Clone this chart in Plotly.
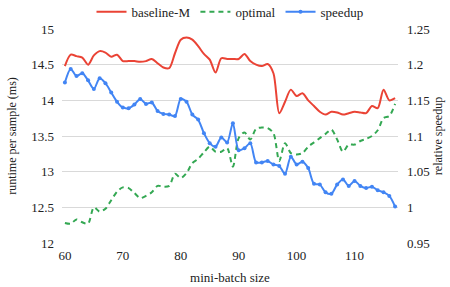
import plotly.graph_objects as go

batch = list(range(60, 118))

baseline_m = [14.48, 14.64, 14.62, 14.60, 14.50, 14.63, 14.69, 14.67, 14.61, 14.64,
              14.55, 14.55, 14.55, 14.54, 14.55, 14.58, 14.52, 14.46, 14.45, 14.66,
              14.85, 14.88, 14.85, 14.76, 14.65, 14.57, 14.39, 14.59, 14.58, 14.58,
              14.58, 14.65, 14.55, 14.50, 14.48, 14.51, 14.38, 13.82, 13.98, 14.15,
              14.06, 14.10, 14.00, 13.92, 13.84, 13.80, 13.84, 13.83, 13.80, 13.82,
              13.84, 13.83, 13.82, 13.92, 13.89, 14.15, 14.00, 14.03]

optimal = [12.28, 12.27, 12.33, 12.29, 12.27, 12.50, 12.44, 12.48, 12.60, 12.72,
           12.78, 12.77, 12.70, 12.63, 12.66, 12.71, 12.80, 12.79, 12.80, 12.97,
           12.91, 12.98, 13.12, 13.18, 13.27, 13.35, 13.28, 13.28, 13.33, 13.07,
           13.47, 13.55, 13.45, 13.60, 13.62, 13.61, 13.54, 13.15, 13.40, 13.26,
           13.24, 13.26, 13.35, 13.41, 13.47, 13.53, 13.59, 13.45, 13.28, 13.38,
           13.38, 13.43, 13.46, 13.50, 13.58, 13.75, 13.78, 13.95]

speedup = [1.175, 1.194, 1.184, 1.188, 1.178, 1.166, 1.181, 1.174, 1.161, 1.148,
           1.140, 1.139, 1.144, 1.152, 1.145, 1.147, 1.135, 1.131, 1.130, 1.128,
           1.152, 1.148, 1.130, 1.123, 1.104, 1.090, 1.085, 1.098, 1.091, 1.118,
           1.080, 1.083, 1.090, 1.063, 1.063, 1.065, 1.060, 1.058, 1.047, 1.071,
           1.060, 1.064, 1.055, 1.033, 1.032, 1.021, 1.019, 1.032, 1.039, 1.030,
           1.037, 1.030, 1.027, 1.029, 1.024, 1.021, 1.016, 1.001]

RED = "#EA4335"
GREEN = "#34A853"
BLUE = "#4285F4"
FONT = "Liberation Serif"

fig = go.Figure()
fig.add_trace(go.Scatter(x=batch, y=baseline_m, name="baseline-M", mode="lines",
                         line=dict(color=RED, width=2, shape="spline", smoothing=0.8)))
fig.add_trace(go.Scatter(x=batch, y=optimal, name="optimal", mode="lines",
                         line=dict(color=GREEN, width=2, dash="5px,4px", shape="spline", smoothing=0.8)))
fig.add_trace(go.Scatter(x=batch, y=speedup, name="speedup", mode="lines+markers",
                         line=dict(color=BLUE, width=2, shape="spline", smoothing=0.8),
                         marker=dict(color=BLUE, size=4), yaxis="y2"))

fig.update_layout(
    width=450, height=287,
    margin=dict(l=62, r=52, t=29, b=44, autoexpand=False),
    paper_bgcolor="white", plot_bgcolor="white",
    font=dict(family=FONT, size=13, color="#222222"),
    showlegend=True,
    legend=dict(orientation="h", x=0.5, xanchor="center", y=1.15, yanchor="top",
                font=dict(family=FONT, size=13, color="#222222"), itemwidth=30,
                bgcolor="rgba(0,0,0,0)", tracegroupgap=0),
    xaxis=dict(range=[59.5, 117.5], tickvals=[60, 70, 80, 90, 100, 110],
               showgrid=False, zeroline=False, showline=False, ticks="",
               automargin=False, ticklabelstandoff=3,
               title=dict(text="mini-batch size", font=dict(family=FONT, size=13), standoff=10),
               tickfont=dict(family=FONT, size=13)),
    yaxis=dict(range=[12, 15], dtick=0.5, showgrid=True, gridcolor="#d9d9d9",
               gridwidth=1, zeroline=False, showline=False, ticks="",
               automargin=False, ticklabelstandoff=7,
               title=dict(text="runtime per sample (ms)", font=dict(family=FONT, size=12), standoff=12),
               tickfont=dict(family=FONT, size=13)),
    yaxis2=dict(range=[0.95, 1.25], dtick=0.05, overlaying="y", side="right",
                showgrid=False, zeroline=False, showline=False, ticks="",
                automargin=False, ticklabelstandoff=8,
                title=dict(text="relative speedup", font=dict(family=FONT, size=12), standoff=4),
                tickfont=dict(family=FONT, size=13)),
)

fig.write_html("out.html", config={"displayModeBar": False},
               post_script="document.body.style.margin='0';")
